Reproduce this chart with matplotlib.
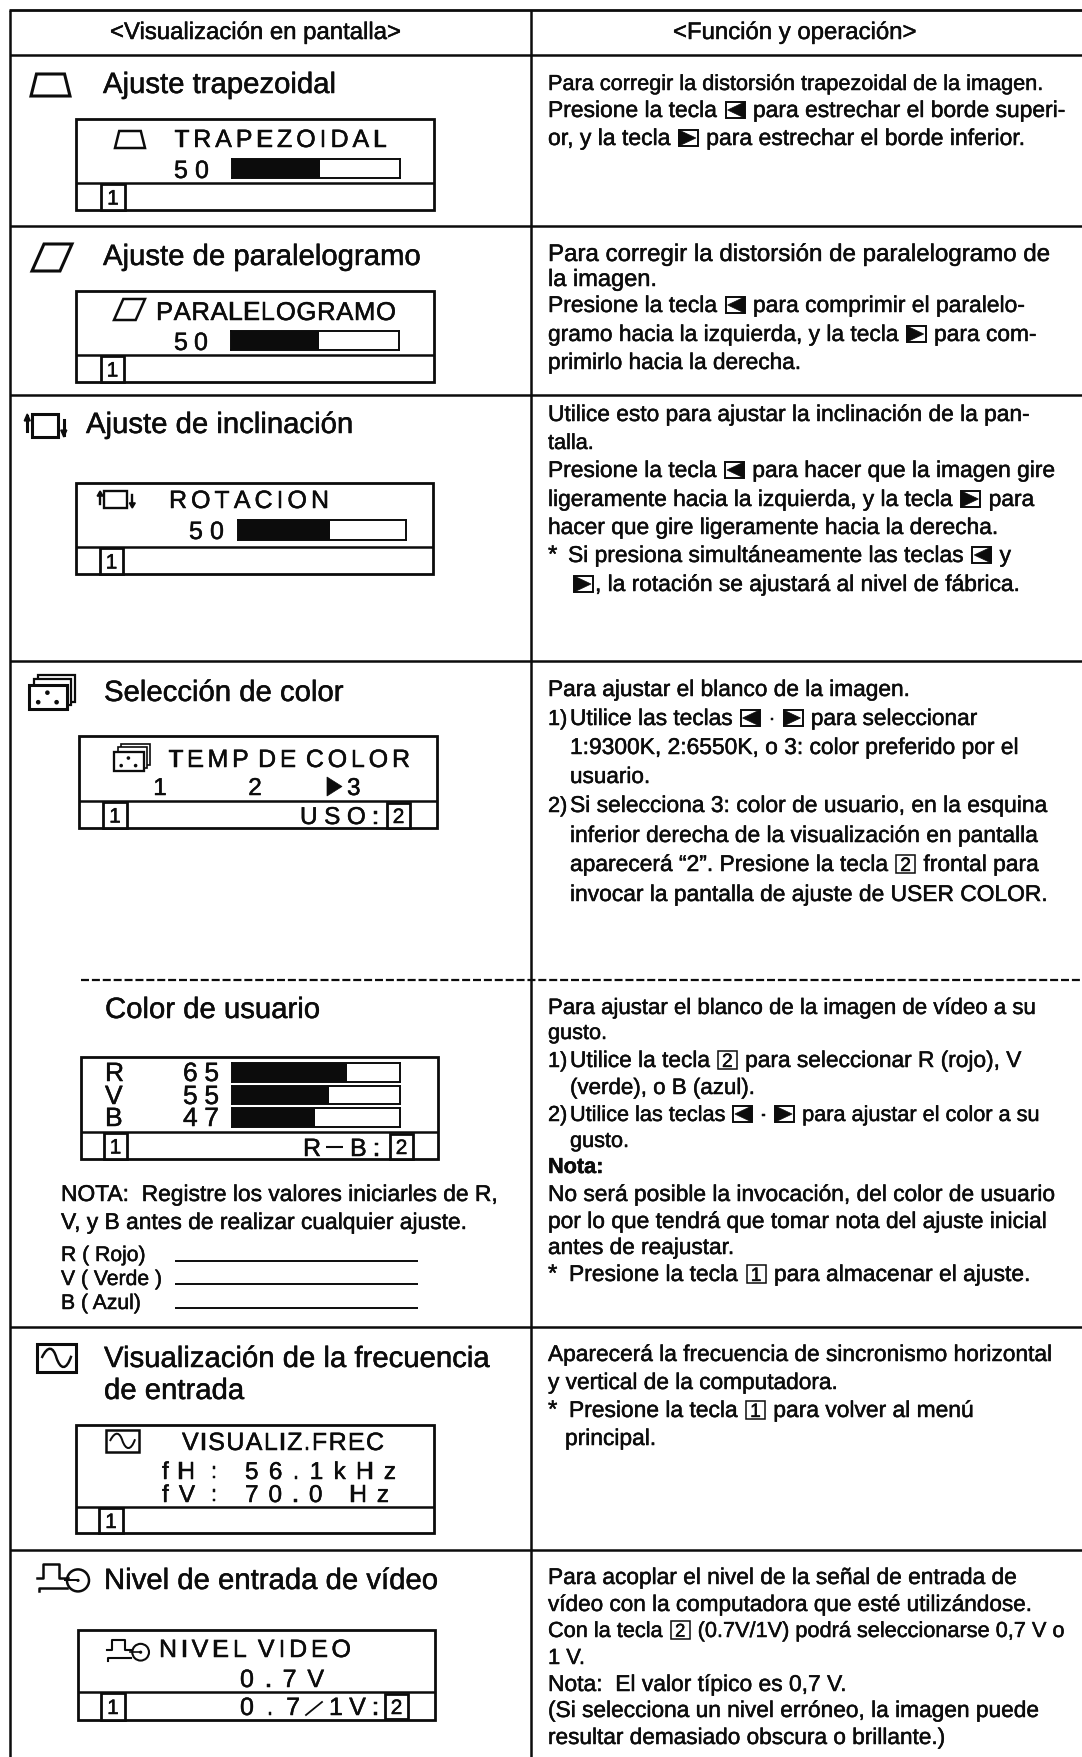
import re
import matplotlib
matplotlib.use("Agg")
import matplotlib.pyplot as plt
from matplotlib.font_manager import FontProperties
from matplotlib.patches import Rectangle, Polygon, Circle, PathPatch
from matplotlib.path import Path
from matplotlib import patheffects as pe

plt.rcParams['font.family'] = ['Liberation Sans', 'DejaVu Sans']

# ---------- data ----------
column_headers = ["<Visualización en pantalla>", "<Función y operación>"]
titles = ["Ajuste trapezoidal", "Ajuste de paralelogramo", "Ajuste de inclinación",
          "Selección de color", "Color de usuario",
          "Visualización de la frecuencia", "de entrada", "Nivel de entrada de vídeo"]
osd_titles = ["TRAPEZOIDAL", "PARALELOGRAMO", "ROTACION", "TEMP DE COLOR",
              "VISUALIZ.FREC", "NIVEL VIDEO"]
single_bar_values = [50, 50, 50]
rgb_labels = ["R", "V", "B"]
rgb_values = [65, 55, 47]
color_options = ["1", "2", "3"]
freq_labels = ["fH", "fV"]
freq_values = ["56.1kHz", "70.0 Hz"]
video_level = "0.7V"
video_choice = "0.7"
video_choice_end = "1V:"
footer_user = "USO:"
footer_rb = ["R", "B:"]
note_lines = ["NOTA:  Registre los valores iniciarles de R,",
              "V, y B antes de realizar cualquier ajuste."]
record_labels = ["R ( Rojo)", "V ( Verde )", "B ( Azul)"]

body_trapezoid = ["Para corregir la distorsión trapezoidal de la imagen.",
                  "Presione la tecla {L} para estrechar el borde superi-",
                  "or, y la tecla {R} para estrechar el borde inferior."]
body_parallelogram = ["Para corregir la distorsión de paralelogramo de",
                      "la imagen.",
                      "Presione la tecla {L} para comprimir el paralelo-",
                      "gramo hacia la izquierda, y la tecla {R} para com-",
                      "primirlo hacia la derecha."]
body_rotation = ["Utilice esto para ajustar la inclinación de la pan-",
                 "talla.",
                 "Presione la tecla {L} para hacer que la imagen gire",
                 "ligeramente hacia la izquierda, y la tecla {R} para",
                 "hacer que gire ligeramente hacia la derecha.",
                 "*",
                 "Si presiona simultáneamente las teclas {L} y",
                 "{R}, la rotación se ajustará al nivel de fábrica."]
body_color = ["Para ajustar el blanco de la imagen.",
              "1)",
              "Utilice las teclas {L} · {R} para seleccionar",
              "1:9300K, 2:6550K, o 3: color preferido por el",
              "usuario.",
              "2)",
              "Si selecciona 3: color de usuario, en la esquina",
              "inferior derecha de la visualización en pantalla",
              "aparecerá “2”. Presione la tecla {2} frontal para",
              "invocar la pantalla de ajuste de USER COLOR."]
body_user = ["Para ajustar el blanco de la imagen de vídeo a su",
             "gusto.",
             "1)",
             "Utilice la tecla {2} para seleccionar R (rojo), V",
             "(verde), o B (azul).",
             "2)",
             "Utilice las teclas {L} · {R} para ajustar el color a su",
             "gusto.",
             "Nota:",
             "No será posible la invocación, del color de usuario",
             "por lo que tendrá que tomar nota del ajuste inicial",
             "antes de reajustar.",
             "*",
             "Presione la tecla {1} para almacenar el ajuste."]
body_freq = ["Aparecerá la frecuencia de sincronismo horizontal",
             "y vertical de la computadora.",
             "*",
             "Presione la tecla {1} para volver al menú",
             "principal."]
body_video = ["Para acoplar el nivel de la señal de entrada de",
              "vídeo con la computadora que esté utilizándose.",
              "Con la tecla {2} (0.7V/1V) podrá seleccionarse 0,7 V o",
              "1 V.",
              "Nota:  El valor típico es 0,7 V.",
              "(Si selecciona un nivel erróneo, la imagen puede",
              "resultar demasiado obscura o brillante.)"]

# ---------- canvas ----------
W, H = 1082, 1758
INK = "#0c0c0c"
fig = plt.figure(figsize=(W / 100, H / 100), dpi=100, facecolor="white")
ax = fig.add_axes([0, 0, 1, 1])
ax.set_xlim(0, W)
ax.set_ylim(H, 0)
ax.axis("off")
renderer = fig.canvas.get_renderer()
FX = [pe.withStroke(linewidth=0.35, foreground=INK)]


def text_width(s, size, weight="normal"):
    fp = FontProperties(family="Liberation Sans", size=size, weight=weight)
    w = renderer.get_text_width_height_descent(s + "|", fp, False)[0]
    b = renderer.get_text_width_height_descent("|", fp, False)[0]
    return (w - b) * 1.0


def size_for(s, px):
    return 100.0 * px / text_width(s, 100.0)


def put(x, y, s, size, weight="normal", ha="left"):
    return ax.text(x, y, s, fontsize=size, color=INK, ha=ha, va="baseline",
                   fontweight=weight, path_effects=FX)


def spread(s, x0, x1, y, size, space=1.0):
    widths = [text_width(c, size) * (space if c == " " else 1.0) for c in s]
    gap = (x1 - x0 - sum(widths)) / max(1, len(s) - 1)
    x = x0
    for c, w in zip(s, widths):
        if c != " ":
            put(x, y, c, size)
        x += w + gap


def hline(x0, x1, y, lw=1.6, **kw):
    ax.plot([x0, x1], [y, y], color=INK, lw=lw, solid_capstyle="butt", **kw)


def vline(x, y0, y1, lw=1.6):
    ax.plot([x, x], [y0, y1], color=INK, lw=lw, solid_capstyle="butt")


def box(x0, y0, x1, y1, lw=1.6, fc="none"):
    ax.add_patch(Rectangle((x0, y0), x1 - x0, y1 - y0, fill=fc != "none",
                           fc=fc, ec=INK, lw=lw, joinstyle="miter"))


def key_number(x0, y0, x1, y1, digit, size=14, lw=1.6):
    box(x0, y0, x1, y1, lw=lw, fc="white")
    ax.text((x0 + x1) / 2, (y0 + y1) / 2 + size * 0.5, digit, fontsize=size, color=INK,
            ha="center", va="baseline", path_effects=FX)


def key_arrow(x0, y0, x1, y1, left):
    box(x0, y0, x1, y1, lw=1.4, fc="white")
    ym = (y0 + y1) / 2
    if left:
        pts = [(x1, y0), (x1, y1), (x0 + 2, ym)]
    else:
        pts = [(x0, y0), (x0, y1), (x1 - 2, ym)]
    ax.add_patch(Polygon(pts, closed=True, fc=INK, ec=INK, lw=0.5))


SLOT = 23


def inline(x, y, s, base, end=None, weight="normal"):
    parts = [p for p in re.split(r"(\{[LR12]\})", s) if p]
    size = base
    if end is not None:
        icons = sum(SLOT for p in parts if p.startswith("{"))
        natural = sum(text_width(p, base, weight) for p in parts if not p.startswith("{"))
        factor = (end - x - icons) / natural
        size = base * min(1.10, max(0.90, factor))
    for part in parts:
        if part in ("{L}", "{R}"):
            key_arrow(x + 2, y - 15, x + 21, y + 1, part == "{L}")
            x += SLOT
        elif part in ("{1}", "{2}"):
            key_number(x + 2, y - 16, x + 21, y + 2, part[1], size=size * 0.85, lw=1.1)
            x += SLOT
        else:
            put(x, y, part, size, weight=weight)
            x += text_width(part, size, weight)


def bar(x0, x1, y0, y1, value, full=98):
    a = fig.add_axes([x0 / W, 1 - y1 / H, (x1 - x0) / W, (y1 - y0) / H])
    a.barh([0], [value], height=1.0, color=INK)
    a.set_xlim(0, full)
    a.set_ylim(-0.5, 0.5)
    a.set_xticks([])
    a.set_yticks([])
    for sp in a.spines.values():
        sp.set_linewidth(1.4)
        sp.set_color(INK)


def icon_trap(x0, y0, x1, y1, lw=2):
    d = (x1 - x0) * 0.14
    ax.add_patch(Polygon([(x0 + d, y0), (x1 - d, y0), (x1, y1), (x0, y1)], closed=True,
                         fill=False, ec=INK, lw=lw))


def icon_para(x0, y0, x1, y1, lw=2):
    d = (x1 - x0) * 0.3
    ax.add_patch(Polygon([(x0 + d, y0), (x1, y0), (x1 - d, y1), (x0, y1)], closed=True,
                         fill=False, ec=INK, lw=lw))


def icon_rot(x0, y0, x1, y1, lw=2):
    w = x1 - x0
    box(x0 + 0.14 * w, y0, x0 + 0.76 * w, y1, lw=lw)
    h = (y1 - y0)
    xl, xr = x0 + 0.03 * w, x0 + 0.9 * w
    ax.plot([xl, xl], [y0 + 0.75 * h, y0 + 0.1 * h], color=INK, lw=lw)
    ax.add_patch(Polygon([(xl - 3, y0 + 0.3 * h), (xl + 3, y0 + 0.3 * h), (xl, y0)], fc=INK, ec=INK))
    ax.plot([xr, xr], [y0 + 0.25 * h, y1 - 0.1 * h], color=INK, lw=lw)
    ax.add_patch(Polygon([(xr - 3, y1 - 0.3 * h), (xr + 3, y1 - 0.3 * h), (xr, y1)], fc=INK, ec=INK))


def icon_color(x0, y0, x1, y1, lw=1.6):
    w, h = x1 - x0, y1 - y0
    box(x0 + 0.2 * w, y0, x1, y1 - 0.22 * h, lw=lw * 0.8, fc="white")
    box(x0 + 0.1 * w, y0 + 0.12 * h, x1 - 0.08 * w, y1 - 0.11 * h, lw=lw * 0.8, fc="white")
    box(x0, y0 + 0.3 * h, x1 - 0.17 * w, y1, lw=lw * 1.1, fc="white")
    dots = [(0.2, 0.8), (0.4, 0.52), (0.6, 0.8)]
    for fx, fy in dots:
        ax.add_patch(Circle((x0 + fx * w, y0 + fy * h), max(1.5, 0.05 * w), fc=INK, ec=INK, lw=0))


def icon_wave(x0, y0, x1, y1, lw=2):
    box(x0, y0, x1, y1, lw=lw)
    w, h = x1 - x0, y1 - y0
    verts = [(x0 + .12 * w, y0 + .5 * h), (x0 + .28 * w, y0 + .02 * h), (x0 + .42 * w, y0 + .1 * h),
             (x0 + .5 * w, y0 + .5 * h), (x0 + .6 * w, y0 + .9 * h), (x0 + .75 * w, y0 + .98 * h),
             (x0 + .88 * w, y0 + .42 * h)]
    codes = [Path.MOVETO] + [Path.CURVE4] * 6
    ax.add_patch(PathPatch(Path(verts, codes), fill=False, ec=INK, lw=lw * 0.8))


def icon_pulse(x0, y0, x1, y1, lw=1.6):
    w, h = x1 - x0, y1 - y0
    xs = [x0, x0 + .11 * w, x0 + .11 * w, x0 + .42 * w, x0 + .42 * w, x0 + .6 * w]
    ys = [y0 + .52 * h, y0 + .52 * h, y0 + .03 * h, y0 + .03 * h, y0 + .52 * h, y0 + .52 * h]
    ax.plot(xs, ys, color=INK, lw=lw)
    ax.plot([x0 + .03 * w, x0 + .03 * w, x0 + .58 * w], [y1 - .02 * h, y0 + .85 * h, y0 + .85 * h], color=INK, lw=lw)
    r = 0.38 * h
    ax.add_patch(Circle((x1 - r, y0 + .6 * h), r, fill=False, ec=INK, lw=lw))
    ax.add_patch(Circle((x1 - r, y0 + .6 * h), 1.6, fc=INK, ec=INK, lw=0))
    ax.plot([x1 - 2 * r - 2, x1 - r], [y0 + .6 * h, y0 + .6 * h], color=INK, lw=lw * 0.8)


def osd_frame(x0, x1, y0, y1, yd, k0, k1):
    box(x0, y0, x1, y1, lw=2)
    hline(x0, x1, yd, lw=1.8)
    key_number(k0, yd + 1, k1, y1, "1", size=15, lw=2)


# ---------- table grid ----------
TL = 10
COL = 531
hline(TL - 1, W, 11, lw=2)
for yy in [56, 227, 396, 662, 1328, 1551]:
    hline(TL, W, yy, lw=1.8)
vline(TL, 11, H, lw=1.8)
vline(COL, 11, H, lw=1.8)
ax.plot([81, W], [981, 981], color=INK, lw=1.6, ls=(0, (3.6, 1.3)))

# ---------- header ----------
hs = size_for(column_headers[0], 291)
put(110, 40, column_headers[0], hs)
put(673, 40, column_headers[1], hs)

# ---------- section titles ----------
ts = size_for(titles[0], 233)
title_pos = [(103, 94), (103, 266), (86, 434), (104, 702), (105, 1019), (104, 1368), (104, 1400), (104, 1590)]
for s, (x, y) in zip(titles, title_pos):
    put(x, y, s, ts)
icon_trap(31, 75, 70, 97, lw=2.2)
icon_para(32, 245, 72, 272, lw=2.2)
icon_rot(26, 415, 68, 438, lw=2.2)
icon_color(29, 676, 75, 710, lw=2)
icon_wave(37, 1345, 76, 1373, lw=2.2)
icon_pulse(37, 1564, 89, 1593, lw=1.8)

# ---------- OSD: trapezoid ----------
OS = 18
osd_frame(76, 434, 120, 211, 184, 101, 125)
icon_trap(115, 132, 145, 149, lw=1.8)
spread(osd_titles[0], 174, 387, 148, OS)
spread(str(single_bar_values[0]), 174, 209, 179, OS)
bar(232, 400, 160, 179, single_bar_values[0], full=96)

# ---------- OSD: parallelogram ----------
osd_frame(76, 434, 292, 383, 356, 101, 124)
icon_para(114, 300, 145, 321, lw=1.8)
spread(osd_titles[1], 156, 396, 321, OS + 0.5)
spread(str(single_bar_values[1]), 174, 208, 351, OS)
bar(231, 399, 332, 351, single_bar_values[1], full=96)

# ---------- OSD: rotation ----------
osd_frame(76, 433, 484, 575, 548, 100, 123)
icon_rot(99, 492, 136, 509, lw=1.7)
spread(osd_titles[2], 169, 329, 509, OS)
spread(str(single_bar_values[2]), 189, 224, 540, OS)
bar(238, 406, 521, 541, single_bar_values[2], full=91)

# ---------- OSD: colour temperature ----------
osd_frame(79, 437, 737, 829, 802, 103, 127)
icon_color(114, 745, 150, 772, lw=1.5)
spread(osd_titles[3], 168, 410, 768, OS, space=0.25)
for s, x in zip(color_options[:2], [160, 255]):
    put(x, 796, s, OS - 0.5, ha="center")
ax.add_patch(Polygon([(327, 778), (327, 797), (342, 787.5)], fc=INK, ec=INK, lw=0.5))
put(347, 796, color_options[2], OS - 0.5)
spread(footer_user, 300, 379, 825, OS - 0.5)
key_number(387, 804, 410, 829, "2", size=15, lw=2)

# ---------- OSD: user colour ----------
osd_frame(81, 438, 1058, 1160, 1133, 104, 127)
rgb_y = [(1064, 1083), (1087, 1105), (1109, 1128)]
rgb_base = [1082, 1105, 1127]
for lab, val, (y0, y1), yb in zip(rgb_labels, rgb_values, rgb_y, rgb_base):
    put(105, yb, lab, OS + 1)
    spread(str(val), 183, 219, yb, OS + 1)
    bar(232, 400, y0, y1, val, full=95)
put(303, 1157, footer_rb[0], OS)
hline(326, 343, 1148, lw=1.5)
spread(footer_rb[1], 350, 380, 1157, OS)
key_number(390, 1135, 413, 1160, "2", size=15, lw=2)

# ---------- note and record lines ----------
ns = size_for(note_lines[1], 406)
put(61, 1202, note_lines[0], ns)
put(61, 1230, note_lines[1], ns)
rs = size_for(record_labels[1], 101)
for s, yb, yl in zip(record_labels, [1262, 1286, 1310], [1262, 1285, 1309]):
    put(61, yb, s, rs)
    hline(175, 418, yl, lw=1.4)

# ---------- OSD: frequency ----------
osd_frame(76, 434, 1426, 1534, 1508, 99, 123)
icon_wave(106, 1431, 139, 1453, lw=1.8)
spread(osd_titles[4], 182, 384, 1451, OS)
for lab, val, yb, xe in zip(freq_labels, freq_values, [1480, 1503], [396, 389]):
    spread(lab, 162, 195, yb, OS - 0.5)
    put(211, yb - 1, ":", OS - 2)
    spread(val, 245, xe, yb, OS - 0.5)

# ---------- OSD: video level ----------
osd_frame(78, 435, 1631, 1721, 1693, 101, 125)
icon_pulse(107, 1640, 149, 1662, lw=1.5)
spread(osd_titles[5], 159, 351, 1658, OS, space=0.5)
spread(video_level, 240, 324, 1688, OS)
spread(video_choice, 240, 300, 1716, OS)
ax.plot([306, 322], [1716, 1703], color=INK, lw=1.3)
spread(video_choice_end, 329, 379, 1716, OS)
key_number(385, 1695, 408, 1720, "2", size=15, lw=2)

# ---------- right column ----------
bs = size_for(body_parallelogram[0], 502)
BX = 548
IX = 570
LBL = 566


def column(lines, xs, ys, ends):
    for s, x, y, e in zip(lines, xs, ys, ends):
        inline(x, y, s, bs, e, weight="bold" if s == "Nota:" else "normal")


column(body_trapezoid, [BX] * 3, [91, 118, 146], [1037, 1065, 1025])
column(body_parallelogram, [BX] * 5, [262, 287, 313, 342, 370], [1050, 657, 1025, 1037, 801])
column(body_rotation, [BX, BX, BX, BX, BX, BX, 568, 572], [422, 450, 478, 507, 535, 563, 563, 592],
       [1030, 593, 1055, 1034, 998, None, 1011, 1020])
column(body_color, [BX, BX, IX, IX, IX, BX, IX, IX, IX, IX],
       [697, 726, 726, 755, 784, 813, 813, 843, 872, 902],
       [910, LBL, 978, 1019, 650, LBL, 1047, 1038, 1039, 1048])
column(body_user, [BX, BX, BX, IX, IX, BX, IX, IX, BX, BX, BX, BX, BX, 569],
       [1015, 1040, 1068, 1068, 1095, 1122, 1122, 1148, 1174, 1202, 1229, 1255, 1282, 1282],
       [1036, 602, LBL, 1022, 755, LBL, 1033, 627, 603, 1055, 1047, 734, None, 1030])
column(body_freq, [BX, BX, BX, 569, 565], [1362, 1390, 1418, 1418, 1446], [1052, 838, None, 974, 656])
column(body_video, [BX] * 7, [1585, 1612, 1638, 1665, 1692, 1718, 1745],
       [1017, 1032, 1065, 585, 847, 1039, 945])

fig.savefig("out.png", dpi=100, facecolor="white")
